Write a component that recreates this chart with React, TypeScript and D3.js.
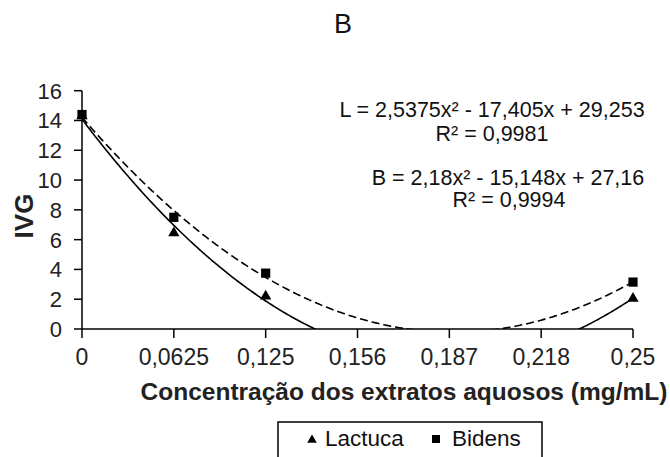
import React from "react";
import * as d3 from "d3";

const categories = ["0", "0,0625", "0,125", "0,156", "0,187", "0,218", "0,25"];
const pointIndex = [0, 1, 2, 6];
const lactuca = [14.3, 6.45, 2.2, 2.05];
const bidens = [14.4, 7.5, 3.75, 3.15];
const yTicks = [0, 2, 4, 6, 8, 10, 12, 14, 16];
const title = "B";
const xLabel = "Concentração dos extratos aquosos (mg/mL)";
const yLabel = "IVG";
const eqL = ["L = 2,5375x² - 17,405x + 29,253", "R² = 0,9981"];
const eqB = ["B = 2,18x² - 15,148x + 27,16", "R² = 0,9994"];

function quadFit(xs: number[], ys: number[]) {
  let n = xs.length, s1 = 0, s2 = 0, s3 = 0, s4 = 0, t0 = 0, t1 = 0, t2 = 0;
  for (let i = 0; i < n; i++) {
    const x = xs[i], y = ys[i];
    s1 += x; s2 += x * x; s3 += x * x * x; s4 += x * x * x * x;
    t0 += y; t1 += x * y; t2 += x * x * y;
  }
  const M = [
    [n, s1, s2, t0],
    [s1, s2, s3, t1],
    [s2, s3, s4, t2],
  ];
  for (let i = 0; i < 3; i++) {
    for (let j = i + 1; j < 3; j++) {
      const f = M[j][i] / M[i][i];
      for (let k = i; k < 4; k++) M[j][k] -= f * M[i][k];
    }
  }
  const c = M[2][3] / M[2][2];
  const b = (M[1][3] - M[1][2] * c) / M[1][1];
  const a = (M[0][3] - M[0][1] * b - M[0][2] * c) / M[0][0];
  return (x: number) => a + b * x + c * x * x;
}

const FONT = "'Liberation Sans', Arial, sans-serif";

export default function App() {
  const W = 670, H = 457;
  const x = d3.scaleLinear().domain([0, categories.length - 1]).range([82, 633]);
  const y = d3.scaleLinear().domain([0, 16]).range([329, 90.7]);
  const fL = quadFit(pointIndex, lactuca);
  const fB = quadFit(pointIndex, bidens);
  const samples = d3.range(0, 6.0001, 0.02);
  const line = d3.line<number>().x((d) => x(d[0])).y((d) => y(d[1]));
  const pathL = line(samples.map((s) => [s, fL(s)]) as any);
  const pathB = line(samples.map((s) => [s, fB(s)]) as any);
  const tri = d3.symbol(d3.symbolTriangle, 55)();
  const sq = d3.symbol(d3.symbolSquare, 85)();

  return (
    <svg width={W} height={H} style={{ position: "absolute", left: 0, top: 0, background: "#fff" }} fontFamily={FONT}>
      <defs>
        <clipPath id="plot">
          <rect x={x(0)} y={y(16)} width={x(6) - x(0)} height={y(0) - y(16)} />
        </clipPath>
      </defs>
      <rect width={W} height={H} fill="#fff" />
      <text x={343} y={33} fontSize={27} textAnchor="middle" fill="#111">{title}</text>

      {/* y axis */}
      <line x1={x(0)} x2={x(0)} y1={y(0)} y2={y(16)} stroke="#000" strokeWidth={1.5} />
      {yTicks.map((t) => (
        <g key={t}>
          <line x1={x(0) - 8} x2={x(0)} y1={y(t)} y2={y(t)} stroke="#000" strokeWidth={1.5} />
          <text x={62} y={y(t)} dy="0.36em" fontSize={22} textAnchor="end" fill="#222">{t}</text>
        </g>
      ))}
      {/* x axis */}
      <line x1={x(0)} x2={x(6)} y1={y(0)} y2={y(0)} stroke="#000" strokeWidth={1.5} />
      {categories.map((c, i) => (
        <g key={c}>
          <line x1={x(i)} x2={x(i)} y1={y(0)} y2={y(0) + 9} stroke="#000" strokeWidth={1.5} />
          <text x={x(i)} y={365} fontSize={23} textAnchor="middle" fill="#222">{c}</text>
        </g>
      ))}
      <text x={404} y={400} fontSize={24.5} fontWeight="bold" textAnchor="middle" fill="#222">{xLabel}</text>
      <text transform="translate(33,216) rotate(-90)" fontSize={26} fontWeight="bold" textAnchor="middle" fill="#222">{yLabel}</text>

      <g clipPath="url(#plot)" fill="none" stroke="#000" strokeWidth={1.6}>
        <path d={pathL || ""} />
        <path d={pathB || ""} strokeDasharray="8,4" />
      </g>

      {pointIndex.map((pi, i) => (
        <path key={"l" + i} d={tri || ""} transform={`translate(${x(pi)},${y(lactuca[i])})`} fill="#000" />
      ))}
      {pointIndex.map((pi, i) => (
        <path key={"b" + i} d={sq || ""} transform={`translate(${x(pi)},${y(bidens[i])})`} fill="#000" />
      ))}

      <g fontSize={21.5} textAnchor="middle" fill="#111">
        <text x={492} y={117}>{eqL[0]}</text>
        <text x={492} y={141}>{eqL[1]}</text>
        <text x={508} y={185}>{eqB[0]}</text>
        <text x={509} y={207}>{eqB[1]}</text>
      </g>

      <rect x={278} y={422} width={264} height={60} fill="none" stroke="#000" strokeWidth={1.5} />
      <path d={d3.symbol(d3.symbolTriangle, 40)() || ""} transform="translate(312,440)" fill="#000" />
      <text x={325} y={446} fontSize={22.5} fill="#111">Lactuca</text>
      <path d={d3.symbol(d3.symbolSquare, 64)() || ""} transform="translate(436,439)" fill="#000" />
      <text x={452} y={446} fontSize={22.5} fill="#111">Bidens</text>
    </svg>
  );
}
